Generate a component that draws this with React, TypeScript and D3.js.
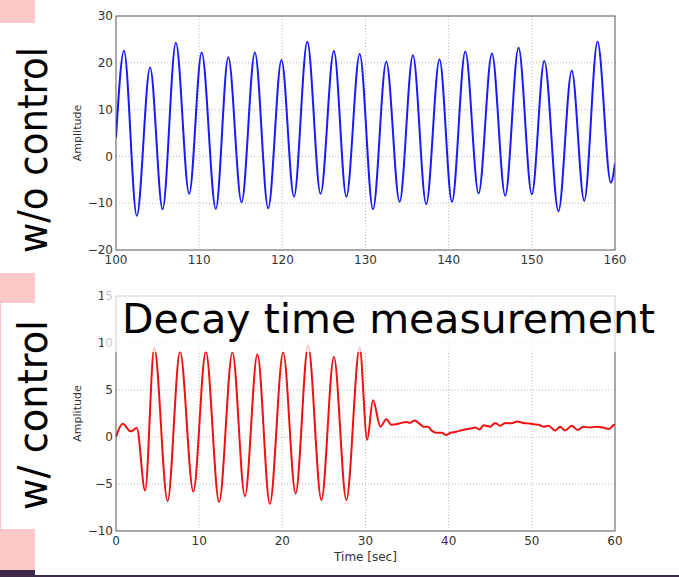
import React, { useRef, useEffect } from 'react';
import * as d3 from 'd3';

// top panel (w/o control): extrema
const topTime = [100, 100.96, 102.5, 104.1, 105.6, 107.2, 108.8, 110.3, 112.0, 113.5, 115.1, 116.7, 118.3, 119.9,
  121.4, 123.0, 124.6, 126.2, 127.7, 129.3, 130.9, 132.5, 134.1, 135.7, 137.3, 138.9, 140.4, 142.0, 143.6, 145.2,
  146.8, 148.4, 150.0, 151.5, 153.2, 154.8, 156.3, 157.9, 159.5, 160];
const topAmp = [4, 22.6, -12.7, 19.0, -11.3, 24.3, -8.0, 22.2, -11.2, 21.2, -9.8, 22.2, -11.1, 20.6,
  -8.6, 24.5, -8.0, 22.5, -8.6, 21.9, -11.3, 20.2, -9.7, 21.6, -10.2, 20.7, -9.7, 22.4, -7.9, 22.0,
  -8.4, 23.2, -8.1, 20.4, -11.7, 18.3, -9.5, 24.5, -5.6, -1.5];

// bottom panel (w/ control)
const botTime = [0, 0.8, 1.77, 2.5, 3.5, 4.6, 6.2, 7.7, 9.3, 10.8, 12.4, 14.0, 15.5, 17.0, 18.5, 20.1, 21.6, 23.1,
  24.7, 26.2, 27.7, 29.3, 30.2, 30.9, 31.8, 32.5, 33.1, 33.7, 34.3, 34.9, 35.3, 35.9, 36.5, 37.0, 37.5, 38.0, 38.5,
  39.2, 39.7, 40.2, 40.9, 41.7, 42.6, 43.2, 43.7, 44.2, 45.0, 45.6, 46.2, 46.8, 47.6, 48.2, 49.0, 49.6, 50.2, 50.8,
  51.4, 52.0, 52.8, 53.4, 54.0, 54.8, 55.5, 56.2, 57.0, 57.8, 58.6, 59.3, 59.9, 60];
const botAmp = [0, 1.4, 0.6, 0.95, -5.7, 9.5, -6.8, 9.1, -5.8, 9.1, -6.9, 9.0, -6.3, 8.8, -7.1, 9.0, -6.0, 9.7,
  -6.7, 8.5, -6.7, 9.5, -0.3, 3.9, 1.1, 1.9, 1.3, 1.35, 1.5, 1.6, 1.5, 1.75, 1.4, 1.1, 1.1, 0.65, 0.45,
  0.45, 0.2, 0.45, 0.55, 0.75, 0.9, 1.0, 0.8, 1.25, 1.1, 1.5, 1.2, 1.5, 1.45, 1.65, 1.5, 1.45, 1.35, 1.3,
  1.1, 1.2, 0.7, 1.1, 0.7, 1.2, 0.75, 1.1, 1.0, 1.1, 1.0, 0.85, 1.3, 1.2];

const topXTicks = [100, 110, 120, 130, 140, 150, 160];
const topYTicks = [-20, -10, 0, 10, 20, 30];
const botXTicks = [0, 10, 20, 30, 40, 50, 60];
const botYTicks = [-10, -5, 0, 5, 10, 15];

const W = 679, H = 577;
const FONT = "'DejaVu Sans', sans-serif";

function drawPanel(svg, opts) {
  const { id, top, bottom, xDomain, yDomain, xTicks, yTicks, times, amps, color, xLabel } = opts;
  const left = 116, right = 615;
  const x = d3.scaleLinear().domain(xDomain).range([left, right]);
  const y = d3.scaleLinear().domain(yDomain).range([bottom, top]);
  const g = svg.append('g');

  g.append('clipPath').attr('id', id).append('rect')
    .attr('x', left).attr('y', top).attr('width', right - left).attr('height', bottom - top);

  // dotted grid
  g.selectAll('.gx').data(xTicks.slice(1, -1)).enter().append('line')
    .attr('x1', d => x(d)).attr('x2', d => x(d)).attr('y1', top).attr('y2', bottom)
    .attr('stroke', '#aaa').attr('stroke-width', 0.8).attr('stroke-dasharray', '1,2');
  g.selectAll('.gy').data(yTicks.slice(1, -1)).enter().append('line')
    .attr('y1', d => y(d)).attr('y2', d => y(d)).attr('x1', left).attr('x2', right)
    .attr('stroke', '#aaa').attr('stroke-width', 0.8).attr('stroke-dasharray', '1,2');

  const line = d3.line()
    .x((d, i) => x(times[i]))
    .y(d => y(d))
    .curve(d3.curveMonotoneX);
  g.append('path').datum(amps)
    .attr('clip-path', `url(#${id})`)
    .attr('fill', 'none').attr('stroke', color).attr('stroke-width', 2).attr('d', line);

  g.append('rect').attr('x', left).attr('y', top).attr('width', right - left).attr('height', bottom - top)
    .attr('fill', 'none').attr('stroke', '#555').attr('stroke-width', 1);

  g.selectAll('.xl').data(xTicks).enter().append('text')
    .attr('x', d => x(d)).attr('y', bottom + 14)
    .attr('text-anchor', 'middle').attr('font-size', 12).attr('font-family', FONT).attr('fill', '#333')
    .text(d => d3.format('d')(d));
  g.selectAll('.yl').data(yTicks).enter().append('text')
    .attr('x', left - 3).attr('y', d => y(d)).attr('dy', '0.35em')
    .attr('text-anchor', 'end').attr('font-size', 12).attr('font-family', FONT).attr('fill', '#333')
    .text(d => d3.format('d')(d));

  g.append('text')
    .attr('transform', `translate(81,${(top + bottom) / 2}) rotate(-90)`)
    .attr('text-anchor', 'middle').attr('font-size', 11).attr('font-family', FONT).attr('fill', '#333')
    .text('Amplitude');
  if (xLabel) {
    g.append('text')
      .attr('x', (left + right) / 2).attr('y', bottom + 30)
      .attr('text-anchor', 'middle').attr('font-size', 12).attr('font-family', FONT).attr('fill', '#333')
      .text(xLabel);
  }
}

const App = () => {
  const ref = useRef(null);

  useEffect(() => {
    const svg = d3.select(ref.current);
    svg.selectAll('*').remove();

    svg.append('rect').attr('width', W).attr('height', H).attr('fill', '#fff');
    // slide decoration on the left
    svg.append('rect').attr('x', 0).attr('y', 0).attr('width', 35).attr('height', 570).attr('fill', '#fdc8c8');
    svg.append('rect').attr('x', 0).attr('y', 23).attr('width', 35).attr('height', 250).attr('fill', '#fff');
    svg.append('rect').attr('x', 1).attr('y', 303).attr('width', 34).attr('height', 226).attr('fill', '#fff');
    svg.append('rect').attr('x', 0).attr('y', 570).attr('width', 35).attr('height', 7).attr('fill', '#3e2b4b');
    svg.append('rect').attr('x', 35).attr('y', 575).attr('width', W - 35).attr('height', 2).attr('fill', '#3e2b4b');

    svg.append('text')
      .attr('transform', 'translate(47,253) rotate(-90)')
      .attr('font-size', 40).attr('font-family', FONT).attr('fill', '#000')
      .attr('textLength', 206).attr('lengthAdjust', 'spacingAndGlyphs')
      .text('w/o control');
    svg.append('text')
      .attr('transform', 'translate(47,510) rotate(-90)')
      .attr('font-size', 40).attr('font-family', FONT).attr('fill', '#000')
      .attr('textLength', 190).attr('lengthAdjust', 'spacingAndGlyphs')
      .text('w/ control');

    drawPanel(svg, {
      id: 'clip-top', top: 16, bottom: 250, xDomain: [100, 160], yDomain: [-20, 30],
      xTicks: topXTicks, yTicks: topYTicks, times: topTime, amps: topAmp, color: '#1a1aff'
    });
    drawPanel(svg, {
      id: 'clip-bot', top: 296, bottom: 531, xDomain: [0, 60], yDomain: [-10, 15],
      xTicks: botXTicks, yTicks: botYTicks, times: botTime, amps: botAmp, color: '#ee1111',
      xLabel: 'Time [sec]'
    });

    // translucent box behind the annotation
    svg.append('rect').attr('x', 103).attr('y', 284).attr('width', 560).attr('height', 68)
      .attr('fill', '#fff').attr('opacity', 0.72);
    svg.append('text')
      .attr('x', 122).attr('y', 333)
      .attr('font-size', 41).attr('font-family', FONT).attr('fill', '#000')
      .attr('textLength', 533).attr('lengthAdjust', 'spacingAndGlyphs')
      .text('Decay time measurement');
  }, []);

  return (
    <svg ref={ref} width={W} height={H}
      style={{ position: 'absolute', left: 0, top: 0, display: 'block' }} />
  );
};

export default App;
